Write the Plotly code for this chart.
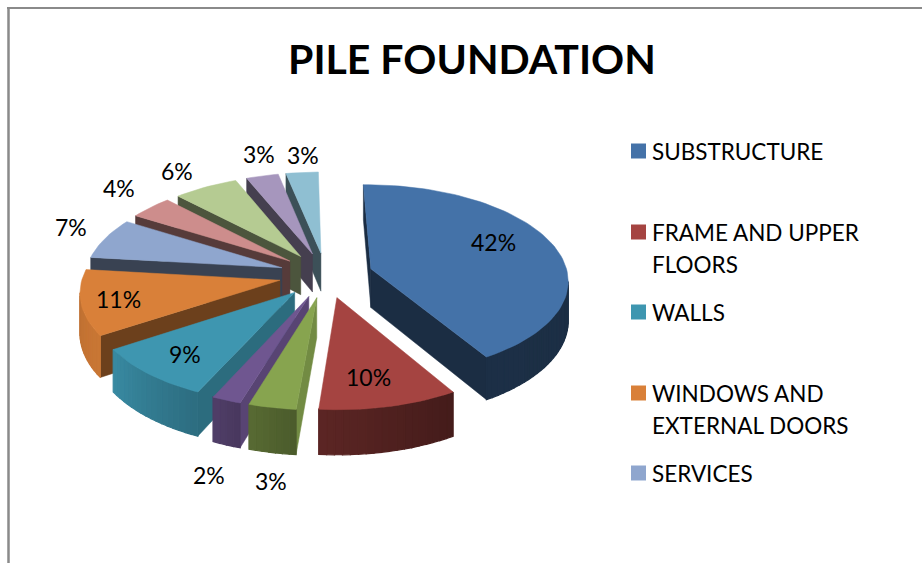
import math
import numpy as np
import plotly.graph_objects as go

# ---------- data ----------
TITLE = "PILE FOUNDATION"
VALUES = [41.8, 10.0, 3.4, 2.1, 9.0, 11.0, 7.0, 4.0, 6.0, 3.0, 3.0]
LEGEND_NAMES = [["SUBSTRUCTURE"], ["FRAME AND UPPER", "FLOORS"], ["WALLS"],
                ["WINDOWS AND", "EXTERNAL DOORS"], ["SERVICES"]]
LEGEND_SLICE = [0, 1, 4, 5, 6]

# ---------- style ----------
COLORS = ["#4472A8", "#A54441", "#87A44F", "#6F5690", "#3E96B0", "#D98039",
          "#8FA6CE", "#CD8D8C", "#B5CB92", "#A696BD", "#8FBFD2"]
CUT_WALL = [0.40, 0.50, 0.85, 0.80, 0.72, 0.50, 0.40, 0.42, 0.42, 0.42, 0.42]
RIM_ANGLE = [0, 60, 151, 187, 198, 205, 238, 277, 360]
RIM_SHADE = [0.42, 0.40, 0.42, 0.57, 0.66, 0.73, 0.93, 0.85, 0.85]
LABEL_XY = [(493, 242), (368, 377), (271, 481), (209, 475), (185, 354), (118, 299),
            (71, 227), (119, 188), (177, 171), (259, 154), (303, 155)]
LEGEND_Y = [151, 232, 312, 393, 473]
LINE_STEP = 32
FONT = "Lato, Carlito, Calibri, sans-serif"

# pie geometry (pixels)
CX, CY, R, PULL, TILT, FOCAL, DEPTH, START = 326, 275, 197, 47, 0.48, 1800, 39, -1


def project(X, Y, z=0.0):
    s = 1.0 / (1.0 - Y / FOCAL)
    return CX + X * s, CY + (TILT * Y + z) * s


def point(theta, rad, mid, z=0.0):
    t, m = math.radians(theta), math.radians(mid)
    X = PULL * math.sin(m) + rad * math.sin(t)
    Y = -(PULL * math.cos(m) + rad * math.cos(t))
    return project(X, Y, z)


def shade(hex_color, f):
    r, g, b = (int(hex_color[i:i + 2], 16) for i in (1, 3, 5))
    return f"rgb({int(r * f)},{int(g * f)},{int(b * f)})"


def poly(points, color, width=0.5):
    xs = [p[0] for p in points] + [points[0][0]]
    ys = [p[1] for p in points] + [points[0][1]]
    return go.Scatter(x=xs, y=ys, mode="lines", fill="toself", fillcolor=color,
                      line=dict(color=color, width=width), hoverinfo="skip", showlegend=False)


def signed_area(q):
    return sum(q[i][0] * q[(i + 1) % len(q)][1] - q[(i + 1) % len(q)][0] * q[i][1]
               for i in range(len(q)))


total = sum(VALUES)
slices = []
acc = 0.0
for i, v in enumerate(VALUES):
    a0 = START + 360 * acc / total
    a1 = START + 360 * (acc + v) / total
    acc += v
    slices.append((i, a0, a1, (a0 + a1) / 2))

# painter's order: farthest slice first
slices.sort(key=lambda s: -math.cos(math.radians(s[3])))

fig = go.Figure()
for i, a0, a1, mid in slices:
    col = COLORS[i]
    apex_t, apex_b = point(0, 0, mid), point(0, 0, mid, DEPTH)
    thetas = np.linspace(a0, a1, max(3, int((a1 - a0) / 2) + 2))

    # straight cut walls
    for a, order in ((a0, "in"), (a1, "out")):
        top, bot = point(a, R, mid), point(a, R, mid, DEPTH)
        q = [apex_t, top, bot, apex_b] if order == "in" else [top, apex_t, apex_b, bot]
        if signed_area(q) < 0:
            fig.add_trace(poly(q, shade(col, CUT_WALL[i])))

    # curved rim, in shaded strips
    for t0, t1 in zip(thetas[:-1], thetas[1:]):
        q = [point(t0, R, mid), point(t1, R, mid),
             point(t1, R, mid, DEPTH), point(t0, R, mid, DEPTH)]
        if signed_area(q) < 0:
            f = float(np.interp(((t0 + t1) / 2) % 360, RIM_ANGLE, RIM_SHADE))
            fig.add_trace(poly(q, shade(col, f), width=1.2))

    # top face
    outline = [apex_t] + [point(t, R, mid) for t in thetas]
    fig.add_trace(poly(outline, col))

# legend squares
fig.add_trace(go.Scatter(
    x=[638.5] * len(LEGEND_Y), y=LEGEND_Y, mode="markers",
    marker=dict(symbol="square", size=15, color=[COLORS[k] for k in LEGEND_SLICE], line=dict(width=0)),
    hoverinfo="skip", showlegend=False))

annotations = [dict(x=471.5, y=58, text=f"<b>{TITLE}</b>", showarrow=False, xanchor="center",
                    yanchor="middle", font=dict(family=FONT, size=41, color="black"))]
for v, (x, y) in zip(VALUES, LABEL_XY):
    annotations.append(dict(x=x, y=y, text=f"{round(v)}%", showarrow=False, xanchor="center",
                            yanchor="middle", font=dict(family=FONT, size=23, color="black")))
for lines, y in zip(LEGEND_NAMES, LEGEND_Y):
    for n, line in enumerate(lines):
        annotations.append(dict(x=650, y=y + n * LINE_STEP, text=line, showarrow=False,
                                xanchor="left", yanchor="middle", align="left",
                                font=dict(family=FONT, size=22.5, color="black")))

fig.update_layout(
    width=922, height=563, margin=dict(l=0, r=0, t=0, b=0), autosize=False,
    paper_bgcolor="white", plot_bgcolor="white", showlegend=False,
    xaxis=dict(range=[0, 922], visible=False, fixedrange=True),
    yaxis=dict(range=[563, 0], visible=False, fixedrange=True),
    annotations=annotations,
    shapes=[
        dict(type="line", x0=8.5, x1=8.5, y0=7, y1=563, line=dict(color="#8a8a8a", width=2.5)),
        dict(type="line", x0=7, x1=922, y0=8, y1=8, line=dict(color="#8a8a8a", width=2)),
    ],
)
fig.write_html("out.html", config={"displayModeBar": False},
               post_script="document.body.style.margin='0';document.body.style.overflow='hidden';")
